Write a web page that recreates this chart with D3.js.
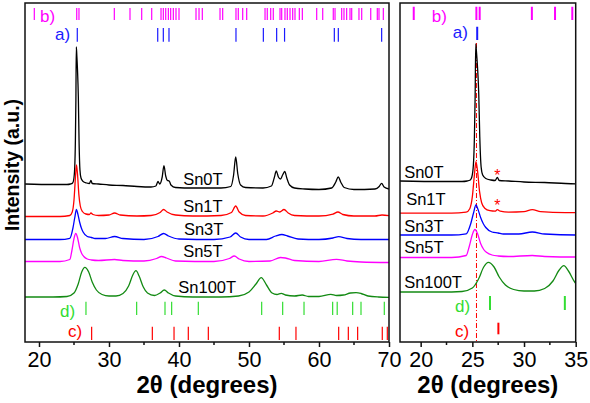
<!DOCTYPE html>
<html><head><meta charset="utf-8">
<script src="https://cdn.jsdelivr.net/npm/d3@7"></script>
<style>
html,body{margin:0;padding:0;background:#fff;}
svg{display:block;font-family:Arial,"Liberation Sans",sans-serif;}
</style></head>
<body><svg id="c" width="590" height="403"></svg>
<script>
// ---- data: XRD patterns [2theta, intensity (a.u., above own baseline)] ----
const sn0T = [[18,6],[22,5.5],[24,5.5],[24.5,6],[24.8,7],[24.95,10],[25.1,22],[25.2,50],[25.27,90],[25.33,143],[25.4,135],[25.5,120],[25.62,93],[25.72,50],[25.85,20],[26,12],[26.3,8.5],[26.8,7],[27.2,6.5],[27.42,9.5],[27.6,6.5],[28.5,6],[30,5],[32,4.5],[34,3.5],[36,3],[36.7,4],[37,8.5],[37.25,6],[37.6,13],[37.85,24.3],[38.1,14],[38.35,9.5],[38.6,9],[38.85,5],[39.5,2.5],[42,2],[46,2],[47.4,3.5],[47.8,15],[48.1,33],[48.4,16],[48.8,5],[49.5,2.5],[52,2],[53.2,4],[53.6,12],[53.9,19],[54.2,13],[54.5,11],[54.8,15],[55.1,18.5],[55.4,12],[55.8,5],[56.5,2],[58,1],[60,0.5],[61.8,2],[62.4,8],[62.75,13],[63.1,8],[63.6,2.5],[65,0.5],[68,1],[68.6,3.5],[68.95,6.7],[69.3,3],[70,1]];
const sn1T = [[18,0.5],[23,0.5],[24.4,1.5],[24.75,5],[25,17],[25.2,39],[25.35,52],[25.5,43],[25.7,22],[25.9,11],[26.2,5.5],[26.7,3],[27.2,2.5],[27.42,4],[27.7,2.5],[28.5,1.5],[30,2],[30.8,4],[31.6,2],[34,1],[36,1.5],[37.3,4.5],[37.8,7.5],[38.3,5],[39.5,2],[42,1],[46,1.5],[47.5,4.5],[48.1,11],[48.6,5],[49.5,1.5],[52,1],[53.4,4],[53.9,6],[54.4,5],[55,7.5],[55.6,4],[56.5,1.5],[60,1],[62,3],[62.7,5],[63.4,2.5],[65,1],[68,1],[69,2],[70,1.3]];
const sn3T = [[18,0.5],[23,0.5],[24.4,1.7],[24.85,12],[25.1,22],[25.35,30.5],[25.55,26],[25.8,18],[26.05,12],[26.3,8],[26.9,3.5],[27.5,2.5],[28,1.5],[29.5,1.5],[30.8,3.5],[32,1.5],[35,0.5],[37,3.5],[37.8,6.5],[38.5,4],[40,1],[45,0.5],[47.3,3],[48.1,7],[48.8,3],[50,0.5],[52.5,0.5],[53.8,4],[54.7,5.5],[55.5,4],[57,1],[60,0.5],[62,2],[62.8,3.3],[64,1.5],[66,0.5],[70,0.5]];
const sn5T = [[18,1],[23,1],[24.4,3],[24.7,12],[25,24],[25.25,29],[25.5,25],[25.8,15],[26.1,9],[26.4,6],[26.9,3.5],[27.5,2.5],[28.5,2],[30.8,3],[32,2],[35,1.5],[36.8,4],[37.5,6],[38.2,4.5],[39.5,1.5],[45,1],[47.2,4],[47.9,6.5],[48.6,3.5],[50,1],[53,1.5],[54.5,5],[55.2,4.5],[56.5,2],[60,1],[62.5,3.2],[64,1.5],[66,0.5],[70,0]];
const sn100T = [[18,0.5],[22,0.5],[24,1],[25,4.5],[25.6,13.5],[26.1,25.5],[26.55,30.2],[27.1,25.5],[27.6,15.5],[28.2,7.5],[29,3],[30,1.5],[31,1.5],[32,4],[32.8,11.5],[33.4,22.5],[33.85,26.8],[34.3,21.5],[34.9,10.5],[35.5,4.5],[36.5,2],[37.3,4.5],[37.9,7.5],[38.5,4.5],[39.5,1.5],[42,0.5],[46,0.5],[48.5,1.5],[50,5.5],[51,13.5],[51.75,19.8],[52.5,12.5],[53.3,4.5],[54,3],[54.6,4.2],[55.2,2.5],[56.5,1.5],[57.6,2.5],[58.5,1],[60,1],[61.7,3.2],[62.5,2],[63.5,2.5],[64.5,4.5],[65.3,4.8],[66,4],[67,1.5],[68.5,0.5],[70,0.2]];

const seriesNames = ["Sn0T","Sn1T","Sn3T","Sn5T","Sn100T"];
const seriesData = [sn0T, sn1T, sn3T, sn5T, sn100T];
const seriesColors = ["#000000","#ff0000","#0000ff","#ff00ff","#138a13"];
// vertical stacking offsets (a.u.)
const offsetsLeft = [152, 125, 102, 79.5, 44.5];
const offsetsRight = [155, 128.3, 106.5, 83.5, 49.5];
// label anchor positions [2theta, a.u.]
const labelPosLeft = [[40.6,157],[40.6,130.3],[40.7,107],[40.6,85.3],[39.9,48.7]];
const labelPosRight = [[18.4,163.7],[18.6,137],[18.4,110.3],[18.4,88.7],[18.4,53.7]];

// reference reflections (2theta)
const refA = [25.47,36.96,37.76,38.57,48.14,52.05,53.95,55.08,62.19,62.76,68.95];
const refB = [19.33,25.39,25.71,30.76,33.0,34.67,36.1,37.43,37.76,38.1,38.48,38.81,39.19,39.57,40.0,42.43,42.86,43.33,45.86,46.24,48.14,48.47,49.1,49.67,52.29,52.61,53.1,53.47,54.43,54.67,55.14,55.47,55.86,56.24,56.57,57.19,57.62,59.67,60.53,62.04,62.29,63.24,63.57,63.95,64.43,64.67,65.71,66.1,67.39,68.33,68.57,69.19];
const refC = [27.52,36.19,39.29,41.33,44.19,54.33,56.71,62.81,64.19,65.52,69.04,69.76];
const refD = [26.71,33.95,38.0,38.95,42.76,51.81,54.81,57.86,61.95,62.6,64.81,66.0,69.33];
const refNames = ["a)","b)","c)","d)"];
const refColors = ["#1a1aff","#ff00ff","#ff0000","#33dd33"];
const starPos = [27.42];
const dashLinePos = 25.4;

const xTicksLeft = [20,30,40,50,60,70];
const xTicksRight = [20,25,30,35];

// ---- drawing ----
const svg = d3.select("#c");
const plotTop = 3, plotBottom = 342;
const y = d3.scaleLinear().domain([0,340]).range([342,2]);

function panel(opts){
  const x = d3.scaleLinear().domain(opts.domain).range(opts.range);
  const g = svg.append("g");
  const cid = "clip"+opts.id;
  svg.append("clipPath").attr("id",cid).append("rect")
    .attr("x",opts.range[0]).attr("y",plotTop).attr("width",opts.range[1]-opts.range[0]).attr("height",plotBottom-plotTop);
  const inner = g.append("g").attr("clip-path","url(#"+cid+")");

  const refs = [refA, refB, refC, refD];
  refs.forEach((arr,i)=>{
    const yr = opts.refY[i];
    inner.selectAll(null).data(arr.filter(v=>v>=opts.domain[0]&&v<=opts.domain[1])).enter().append("line")
      .attr("x1",d=>x(d)).attr("x2",d=>x(d)).attr("y1",yr[0]).attr("y2",yr[1])
      .attr("stroke",refColors[i]).attr("stroke-width",opts.refW);
    g.append("text").attr("x",opts.refLabelX[i]).attr("y",yr[2]).text(refNames[i])
      .attr("fill",refColors[i]).attr("font-size",17);
  });

  if(opts.dash){
    inner.append("line").attr("x1",x(dashLinePos)).attr("x2",x(dashLinePos)).attr("y1",43).attr("y2",plotBottom)
      .attr("stroke","#ff0000").attr("stroke-width",1).attr("stroke-dasharray","5,2,1,2");
  }

  const line = d3.line().x(d=>x(d[0])).curve(d3.curveMonotoneX);
  seriesData.forEach((s,i)=>{
    const off = opts.offsets[i];
    inner.append("path").datum(s)
      .attr("d", line.y(d=>y(d[1]+off)))
      .attr("fill","none").attr("stroke",seriesColors[i]).attr("stroke-width",1.3).attr("stroke-linejoin","round");
    const lp = opts.labels[i];
    g.append("text").attr("x",x(lp[0])).attr("y",y(lp[1])).text(seriesNames[i])
      .attr("font-size",16.5).attr("fill","#000");
  });

  if(opts.stars){
    [0,1].forEach(i=>{
      g.append("text").attr("x",x(starPos[0])).attr("y",opts.starY[i]).text("*")
        .attr("fill","#ff0000").attr("font-size",16).attr("text-anchor","middle");
    });
  }

  g.append("rect").attr("x",opts.range[0]).attr("y",plotTop).attr("width",opts.range[1]-opts.range[0]).attr("height",plotBottom-plotTop)
    .attr("fill","none").attr("stroke","#111").attr("stroke-width",1.5);

  const ax = g.append("g").attr("transform","translate(0,"+plotBottom+")")
    .call(d3.axisBottom(x).tickValues(opts.ticks).tickSize(5).tickPadding(5).tickFormat(d3.format("d")));
  ax.select(".domain").remove();
  ax.selectAll(".tick line").attr("stroke","#111").attr("stroke-width",1.5);
  ax.selectAll(".tick text").attr("font-size",21.5).attr("fill","#000").attr("font-family","Arial, Liberation Sans, sans-serif");
  const minors = [];
  for(let i=0;i<opts.ticks.length-1;i++) minors.push((opts.ticks[i]+opts.ticks[i+1])/2);
  g.selectAll(null).data(minors).enter().append("line")
    .attr("x1",d=>x(d)).attr("x2",d=>x(d)).attr("y1",plotBottom).attr("y2",plotBottom+3)
    .attr("stroke","#111").attr("stroke-width",1.5);

  g.append("text").attr("x",(opts.range[0]+opts.range[1])/2).attr("y",393)
    .attr("text-anchor","middle").attr("font-weight","bold").attr("font-size",24).text("2θ (degrees)");
}

panel({id:"L", domain:[18,70], range:[25,389], offsets:offsetsLeft, labels:labelPosLeft,
  refY:[[28,41.7,40],[8,20,21.7],[326.7,340,336.7],[301.7,315,316.7]], refLabelX:[55,40,68,60], refW:1.2,
  ticks:xTicksLeft, dash:false, stars:false});
panel({id:"R", domain:[18,35], range:[400,575.7], offsets:offsetsRight, labels:labelPosRight,
  refY:[[26.7,40,38.3],[6.7,20,21.7],[322.7,334.3,336.7],[296,310,311.7]], refLabelX:[452.7,431.7,455,455], refW:2,
  ticks:xTicksRight, dash:true, stars:true, starY:[181,211]});

svg.append("text").attr("transform","translate(18.5,165) rotate(-90)").attr("text-anchor","middle")
  .attr("font-weight","bold").attr("font-size",19.5).text("Intensity (a.u.)");
</script></body></html>
